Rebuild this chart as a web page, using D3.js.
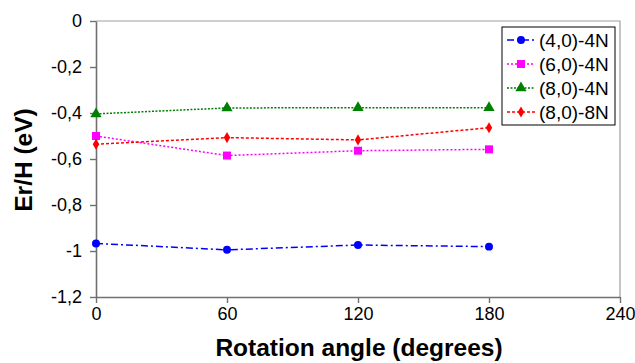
<!DOCTYPE html>
<meta charset="utf-8">
<style>

body {
	margin: 0;
	background: #fff;
}

svg {
	font-family: "Liberation Sans", Arial, sans-serif;
}

</style>
<svg width="635" height="363"></svg>
<script src="https://d3js.org/d3.v7.min.js"></script>
<script>

	// rotation angles (degrees)
	var angles = [0, 60, 120, 180];

	// Er/H (eV)
	var s4_0_4N = [-0.967, -0.995, -0.974, -0.981];
	var s6_0_4N = [-0.500, -0.585, -0.564, -0.558];
	var s8_0_4N = [-0.404, -0.378, -0.377, -0.377];
	var s8_0_8N = [-0.536, -0.507, -0.517, -0.464];

	var seriesNames = ["(4,0)-4N", "(6,0)-4N", "(8,0)-4N", "(8,0)-8N"];
	var xTicks = [0, 60, 120, 180, 240];
	var yTicks = [0, -0.2, -0.4, -0.6, -0.8, -1, -1.2];

	var series = [
		{ name: seriesNames[0], values: s4_0_4N, color: "#0000ff", dash: "7,3,2,3", symbol: d3.symbolCircle, size: 50 },
		{ name: seriesNames[1], values: s6_0_4N, color: "#ff00ff", dash: "2,2", symbol: d3.symbolSquare, size: 64 },
		{ name: seriesNames[2], values: s8_0_4N, color: "#008000", dash: "2,1.5", symbol: d3.symbolTriangle, size: 55 },
		{ name: seriesNames[3], values: s8_0_8N, color: "#ff0000", dash: "3,2", symbol: d3.symbolDiamond, size: 36 }
	];

	var svg = d3.select("svg"),
		mLeft = 96, mRight = 620, mTop = 21, mBottom = 297;

	var x = d3.scaleLinear().domain([0, 240]).range([mLeft, mRight]);
	var y = d3.scaleLinear().domain([-1.2, 0]).range([mBottom, mTop]);

	var fmt = function(d) { return String(+d.toFixed(1)).replace(".", ","); };

	// plot frame (top and right)
	svg.append("path")
		.attr("d", "M" + mLeft + "," + mTop + "H" + mRight + "V" + mBottom)
		.attr("fill", "none")
		.attr("stroke", "#a0a0a0")
		.attr("stroke-width", 1.2);

	var xAxis = svg.append("g")
		.attr("transform", "translate(0," + mBottom + ")")
		.call(d3.axisBottom(x).tickValues(xTicks).tickSize(6).tickSizeOuter(0).tickPadding(4));

	var yAxis = svg.append("g")
		.attr("transform", "translate(" + mLeft + ",0)")
		.call(d3.axisLeft(y).tickValues(yTicks).tickSize(6).tickSizeOuter(0).tickPadding(8).tickFormat(fmt));

	[xAxis, yAxis].forEach(function(a) {
		a.select(".domain").attr("stroke", "#707070").attr("stroke-width", 1.6);
		a.selectAll(".tick line").attr("stroke", "#707070").attr("stroke-width", 1.4);
		a.selectAll(".tick text")
			.attr("fill", "#000")
			.style("font-size", "18px")
			.style("font-family", "'Liberation Sans', Arial, sans-serif");
	});

	// axis titles
	svg.append("text")
		.attr("x", 359)
		.attr("y", 356)
		.attr("text-anchor", "middle")
		.style("font-size", "24.5px")
		.style("font-weight", "bold")
		.text("Rotation angle (degrees)");

	svg.append("text")
		.attr("transform", "translate(32,160) rotate(-90)")
		.attr("text-anchor", "middle")
		.style("font-size", "24.5px")
		.style("font-weight", "bold")
		.text("Er/H (eV)");

	var line = d3.line()
		.x(function(d, i) { return x(angles[i]); })
		.y(function(d) { return y(d); });

	var sg = svg.selectAll(".series")
		.data(series)
		.enter().append("g")
		.attr("class", "series");

	sg.append("path")
		.attr("d", function(d) { return line(d.values); })
		.attr("fill", "none")
		.attr("stroke", function(d) { return d.color; })
		.attr("stroke-width", 1.5)
		.attr("stroke-dasharray", function(d) { return d.dash; });

	sg.selectAll(".pt")
		.data(function(d) { return d.values.map(function(v, i) { return { v: v, i: i, s: d }; }); })
		.enter().append("path")
		.attr("class", "pt")
		.attr("transform", function(d) { return "translate(" + x(angles[d.i]) + "," + y(d.v) + ")"; })
		.attr("d", function(d) { return d3.symbol().type(d.s.symbol).size(d.s.size)(); })
		.attr("fill", function(d) { return d.s.color; });

	// legend
	var lg = svg.append("g").attr("transform", "translate(502,27)");
	lg.append("rect")
		.attr("width", 113)
		.attr("height", 98)
		.attr("fill", "#fff")
		.attr("stroke", "#000")
		.attr("stroke-width", 1);

	var item = lg.selectAll(".item")
		.data(series)
		.enter().append("g")
		.attr("transform", function(d, i) { return "translate(0," + (13 + i * 24) + ")"; });

	item.append("line")
		.attr("x1", 5).attr("x2", 33)
		.attr("stroke", function(d) { return d.color; })
		.attr("stroke-width", 1.5)
		.attr("stroke-dasharray", function(d) { return d.dash; });

	item.append("path")
		.attr("transform", "translate(19,0)")
		.attr("d", function(d) { return d3.symbol().type(d.symbol).size(d.size)(); })
		.attr("fill", function(d) { return d.color; });

	item.append("text")
		.attr("x", 37)
		.attr("dy", "0.35em")
		.style("font-size", "19px")
		.text(function(d) { return d.name; });

</script>
